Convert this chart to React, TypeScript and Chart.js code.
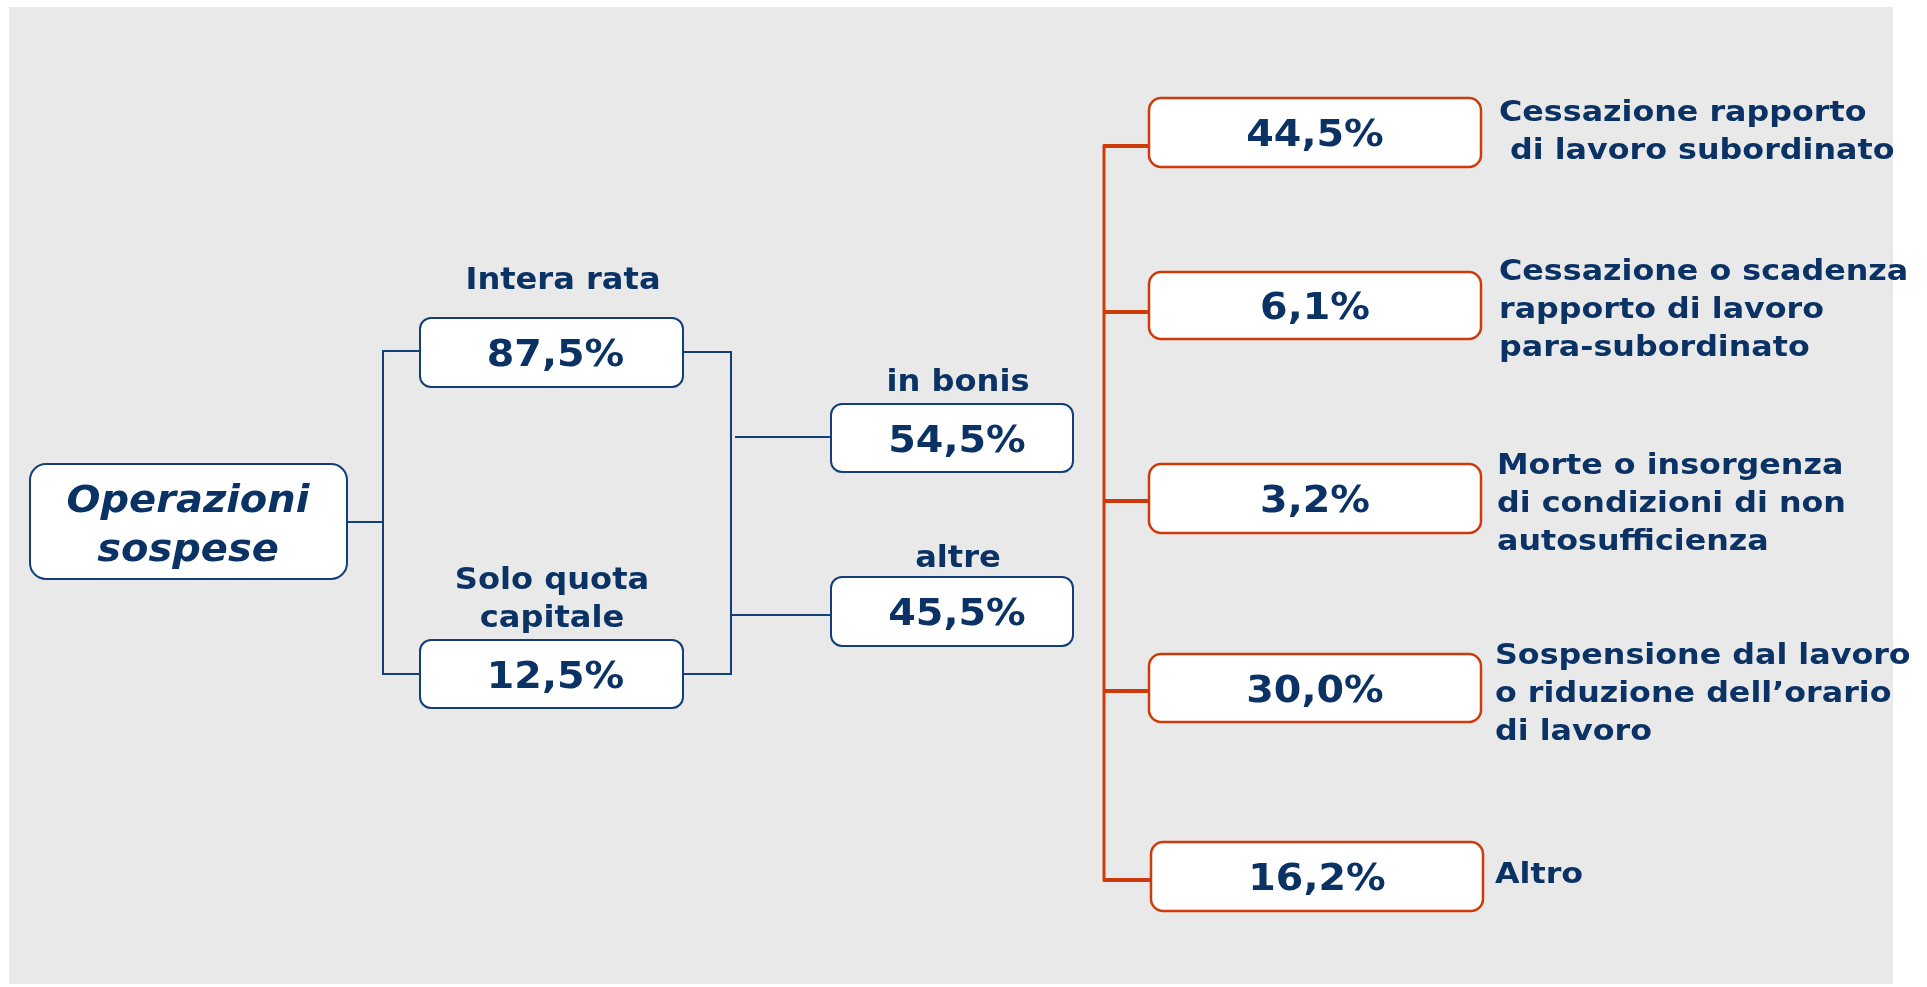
import React, { useEffect, useRef } from "react";
import { Chart, registerables } from "chart.js";

Chart.register(...registerables);

// ---------- data ----------
const rootLabel = ["Operazioni", "sospese"];
const paymentLabels = [["Intera rata"], ["Solo quota", "capitale"]];
const paymentValues = [87.5, 12.5];
const statusLabels = ["in bonis", "altre"];
const statusValues = [54.5, 45.5];
const reasonLabels = [
  ["Cessazione rapporto", " di lavoro subordinato"],
  ["Cessazione o scadenza", "rapporto di lavoro", "para-subordinato"],
  ["Morte o insorgenza", "di condizioni di non", "autosufficienza"],
  ["Sospensione dal lavoro", "o riduzione dell\u2019orario", "di lavoro"],
  ["Altro"],
];
const reasonValues = [44.5, 6.1, 3.2, 30.0, 16.2];

// ---------- layout (diagram coordinates) ----------
const W = 1927;
const H = 987;
const PANEL = { x0: 9, y0: 7, x1: 1893, y1: 984 };
const ROOT_BOX = { x0: 30, x1: 347, y0: 464, y1: 579 };
const ROOT_TEXT = { x: 188, y: [502, 551] };
const ROOT_LINK_Y = 522;
const ROOT_JOIN_X = 383;
const PAY_BOX_X = [420, 683];
const PAY_BOX_Y = [
  [318, 387],
  [640, 708],
];
const PAY_LINK_Y = [352, 674];
const PAY_LABEL_X = [563, 552];
const PAY_LABEL_Y = [[281], [581, 619]];
const PAY_JOIN_X = 731;
const STATUS_BOX_X = [831, 1073];
const STATUS_BOX_Y = [
  [404, 472],
  [577, 646],
];
const STATUS_LINK = [
  { x: 735, y: 437 },
  { x: 731, y: 615 },
];
const STATUS_LABEL_X = 958;
const STATUS_LABEL_Y = [383, 559];
const TRUNK_X = 1104;
const REASON_BOX_X = [
  [1149, 1481],
  [1149, 1481],
  [1149, 1481],
  [1149, 1481],
  [1151, 1483],
];
const REASON_BOX_Y = [
  [98, 167],
  [272, 339],
  [464, 533],
  [654, 722],
  [842, 911],
];
const REASON_LINK_Y = [146, 312, 501, 691, 880];
const REASON_TEXT_X = [1499, 1499, 1497, 1495, 1495];
const REASON_TEXT_Y0 = [113, 272, 466, 656, 875];
const LINE_GAP = 38;
const VALUE_DY = 4;

const NAVY_LINE = "#123f77";
const NAVY_TEXT = "#0b3265";
const RED = "#cf3a0a";
const GREY = "#e9e9e9";
const FONT = "'DejaVu Sans', Verdana, sans-serif";

const fmt = (v: number) => v.toFixed(1).replace(".", ",") + "%";

const pts = (arr: number[][]) => arr.map(([x, y]) => ({ x, y }));

function lineDs(data: number[][], color: string, width: number) {
  return {
    data: pts(data),
    showLine: true,
    borderColor: color,
    borderWidth: width,
    pointRadius: 0,
    pointHoverRadius: 0,
    fill: false,
    tension: 0,
    borderCapStyle: "butt" as const,
    borderJoinStyle: "miter" as const,
  };
}

function buildDatasets() {
  const ds: any[] = [];
  ds.push(lineDs([[ROOT_BOX.x1, ROOT_LINK_Y], [ROOT_JOIN_X, ROOT_LINK_Y]], NAVY_LINE, 2));
  ds.push(
    lineDs(
      [
        [PAY_BOX_X[0], PAY_LINK_Y[0] - 1],
        [ROOT_JOIN_X, PAY_LINK_Y[0] - 1],
        [ROOT_JOIN_X, PAY_LINK_Y[1]],
        [PAY_BOX_X[0], PAY_LINK_Y[1]],
      ],
      NAVY_LINE,
      2
    )
  );
  ds.push(
    lineDs(
      [
        [PAY_BOX_X[1], PAY_LINK_Y[0]],
        [PAY_JOIN_X, PAY_LINK_Y[0]],
        [PAY_JOIN_X, PAY_LINK_Y[1]],
        [PAY_BOX_X[1], PAY_LINK_Y[1]],
      ],
      NAVY_LINE,
      2
    )
  );
  STATUS_LINK.forEach((l) => {
    ds.push(lineDs([[l.x, l.y], [STATUS_BOX_X[0], l.y]], NAVY_LINE, 2));
  });
  ds.push(
    lineDs(
      [
        [TRUNK_X, REASON_LINK_Y[0] - 1],
        [TRUNK_X, REASON_LINK_Y[REASON_LINK_Y.length - 1] + 1],
      ],
      RED,
      3
    )
  );
  reasonValues.forEach((_, i) => {
    ds.push(lineDs([[TRUNK_X - 1, REASON_LINK_Y[i]], [REASON_BOX_X[i][0], REASON_LINK_Y[i]]], RED, 4));
  });
  return ds;
}

function roundRect(ctx: CanvasRenderingContext2D, x: number, y: number, w: number, h: number, r: number) {
  ctx.beginPath();
  ctx.moveTo(x + r, y);
  ctx.lineTo(x + w - r, y);
  ctx.arcTo(x + w, y, x + w, y + r, r);
  ctx.lineTo(x + w, y + h - r);
  ctx.arcTo(x + w, y + h, x + w - r, y + h, r);
  ctx.lineTo(x + r, y + h);
  ctx.arcTo(x, y + h, x, y + h - r, r);
  ctx.lineTo(x, y + r);
  ctx.arcTo(x, y, x + r, y, r);
  ctx.closePath();
}

const diagramPlugin = {
  id: "diagram",
  beforeDraw(chart: any) {
    const { ctx } = chart;
    const xs = chart.scales.x;
    const ys = chart.scales.y;
    ctx.save();
    ctx.fillStyle = "#ffffff";
    ctx.fillRect(0, 0, chart.width, chart.height);
    const x0 = xs.getPixelForValue(PANEL.x0);
    const x1 = xs.getPixelForValue(PANEL.x1);
    const y0 = ys.getPixelForValue(PANEL.y0);
    const y1 = ys.getPixelForValue(PANEL.y1);
    ctx.fillStyle = GREY;
    ctx.fillRect(x0, y0, x1 - x0, y1 - y0);
    ctx.restore();
  },
  afterDatasetsDraw(chart: any) {
    const { ctx } = chart;
    const xs = chart.scales.x;
    const ys = chart.scales.y;
    const X = (v: number) => xs.getPixelForValue(v);
    const Y = (v: number) => ys.getPixelForValue(v);

    const box = (bx0: number, bx1: number, by0: number, by1: number, r: number, color: string, lw: number) => {
      const px0 = X(bx0), px1 = X(bx1), py0 = Y(by0), py1 = Y(by1);
      roundRect(ctx, px0, py0, px1 - px0, py1 - py0, r);
      ctx.fillStyle = "#ffffff";
      ctx.fill();
      ctx.strokeStyle = color;
      ctx.lineWidth = lw;
      ctx.stroke();
    };
    const text = (
      s: string,
      x: number,
      y: number,
      font: string,
      align: CanvasTextAlign = "center",
      sx = 1.08
    ) => {
      ctx.save();
      ctx.font = font;
      ctx.textAlign = align;
      ctx.textBaseline = "middle";
      ctx.fillStyle = NAVY_TEXT;
      ctx.translate(X(x), Y(y));
      ctx.scale(sx, 1);
      ctx.fillText(s, 0, 0);
      ctx.restore();
    };

    ctx.save();
    // root
    box(ROOT_BOX.x0, ROOT_BOX.x1, ROOT_BOX.y0, ROOT_BOX.y1, 16, NAVY_LINE, 2);
    rootLabel.forEach((s, i) => text(s, ROOT_TEXT.x, ROOT_TEXT.y[i], `italic bold 37px ${FONT}`, "center", 1.08));

    // payment type
    paymentValues.forEach((v, i) => {
      const [by0, by1] = PAY_BOX_Y[i];
      box(PAY_BOX_X[0], PAY_BOX_X[1], by0, by1, 11, NAVY_LINE, 2);
      text(fmt(v), (PAY_BOX_X[0] + PAY_BOX_X[1]) / 2 + 4, (by0 + by1) / 2 + VALUE_DY, `bold 37px ${FONT}`, "center", 1.07);
      paymentLabels[i].forEach((s, j) =>
        text(s, PAY_LABEL_X[i], PAY_LABEL_Y[i][j], `bold 30px ${FONT}`, "center", 1.07)
      );
    });

    // status
    statusValues.forEach((v, i) => {
      const [by0, by1] = STATUS_BOX_Y[i];
      box(STATUS_BOX_X[0], STATUS_BOX_X[1], by0, by1, 11, NAVY_LINE, 2);
      text(fmt(v), (STATUS_BOX_X[0] + STATUS_BOX_X[1]) / 2 + 5, (by0 + by1) / 2 + VALUE_DY, `bold 37px ${FONT}`, "center", 1.07);
      text(statusLabels[i], STATUS_LABEL_X, STATUS_LABEL_Y[i], `bold 30px ${FONT}`, "center", 1.07);
    });

    // reasons
    reasonValues.forEach((v, i) => {
      const [bx0, bx1] = REASON_BOX_X[i];
      const [by0, by1] = REASON_BOX_Y[i];
      box(bx0, bx1, by0, by1, 12, RED, 2.5);
      text(fmt(v), (bx0 + bx1) / 2, (by0 + by1) / 2 + VALUE_DY, `bold 37px ${FONT}`, "center", 1.07);
      reasonLabels[i].forEach((s, j) =>
        text(s, REASON_TEXT_X[i], REASON_TEXT_Y0[i] + j * LINE_GAP, `bold 29px ${FONT}`, "left", 1.095)
      );
    });
    ctx.restore();
  },
};

export default function App() {
  const ref = useRef<HTMLCanvasElement | null>(null);
  useEffect(() => {
    document.body.style.margin = "0";
    const canvas = ref.current;
    if (!canvas) return;
    const chart = new Chart(canvas, {
      type: "scatter",
      data: { datasets: buildDatasets() },
      options: {
        responsive: false,
        animation: false,
        devicePixelRatio: 1,
        layout: { padding: 0 },
        events: [],
        plugins: {
          legend: { display: false },
          tooltip: { enabled: false },
          title: { display: false },
        },
        scales: {
          x: { type: "linear", min: 0, max: W, display: false },
          y: { type: "linear", min: 0, max: H, reverse: true, display: false },
        },
      },
      plugins: [diagramPlugin],
    });
    return () => chart.destroy();
  }, []);
  return (
    <div style={{ width: W, height: H }}>
      <canvas ref={ref} width={W} height={H} style={{ display: "block", width: W, height: H }} />
    </div>
  );
}
